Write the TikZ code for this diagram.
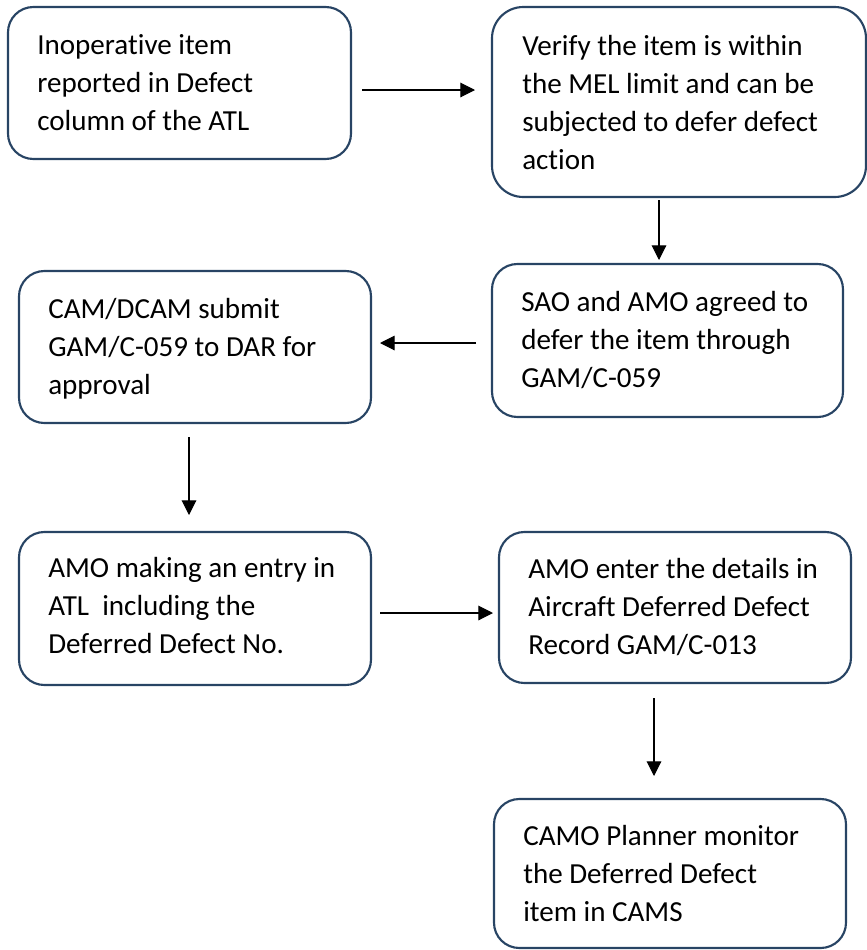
\documentclass[tikz,border=0pt]{standalone}
\usepackage{fontspec}
\setmainfont{Carlito}[Ligatures=NoCommon]
\usetikzlibrary{arrows.meta}
\definecolor{boxline}{RGB}{40,68,100}
% text block with one line per \\, baseline of the first line as reference
\newcommand\steplines[1]{\parbox[t]{330pt}{\raggedright #1}}
\begin{document}
\begin{tikzpicture}[x=0.75pt,y=-0.75pt,
  stepbox/.style={draw=boxline, line width=1.6pt, rounded corners=19pt,
    inner sep=0pt, outer sep=0pt, anchor=north west},
  steptext/.style={anchor=base west, inner sep=0pt,
    font=\fontsize{21.8}{28.7}\selectfont},
  flow/.style={-{Triangle[length=11pt,width=11pt]}, line width=0.8pt, black}]
\useasboundingbox (0,0) rectangle (867,950);

% boxes
\node[stepbox, minimum width=343*0.75pt, minimum height=152*0.75pt] (b1) at (8,7) {};
\node[stepbox, rounded corners=23.5pt, minimum width=374*0.75pt, minimum height=190*0.75pt] (b2) at (492,7) {};
\node[stepbox, minimum width=351*0.75pt, minimum height=153*0.75pt] (b3) at (492,264) {};
\node[stepbox, minimum width=352*0.75pt, minimum height=152*0.75pt] (b4) at (19,271) {};
\node[stepbox, minimum width=352*0.75pt, minimum height=153*0.75pt] (b5) at (19,532) {};
\node[stepbox, minimum width=352*0.75pt, minimum height=151*0.75pt] (b6) at (499,532) {};
\node[stepbox, minimum width=352*0.75pt, minimum height=149*0.75pt] (b7) at (494,799) {};

% texts
\node[steptext] (t1) at (37,54) {\steplines{Inoperative item\\reported in Defect\\column of the ATL}};
\node[steptext] (t2) at (522,55) {\steplines{Verify the item is within\\the MEL limit and can be\\subjected to defer defect\\action}};
\node[steptext] (t3) at (521,311) {\steplines{SAO and AMO agreed to\\defer the item through\\GAM/C-059}};
\node[steptext] (t4) at (48,318) {\steplines{CAM/DCAM submit\\GAM/C-059 to DAR for\\approval}};
\node[steptext] (t5) at (48,577) {\steplines{AMO making an entry in\\ATL\ \ including the\\Deferred Defect No.}};
\node[steptext] (t6) at (528,578) {\steplines{AMO enter the details in\\Aircraft Deferred Defect\\Record GAM/C-013}};
\node[steptext] (t7) at (523,845) {\steplines{CAMO Planner monitor\\the Deferred Defect\\item in CAMS}};

% connector levels
\coordinate (r1) at (0,90);
\coordinate (c2) at (659,0);
\coordinate (r3) at (0,343);
\coordinate (c4) at (189,0);
\coordinate (r5) at (0,613);
\coordinate (c6) at (654,0);

% connectors
\draw[flow, shorten <=8.25pt, shorten >=12.75pt] (b1.east |- r1) -- (b2.west |- r1);
\draw[flow, shorten <=2.25pt, shorten >=3pt] (b2.south -| c2) -- (b3.north -| c2);
\draw[flow, shorten <=12pt, shorten >=6.75pt] (b3.west |- r3) -- (b4.east |- r3);
\draw[flow, shorten <=10.5pt, shorten >=12.75pt] (b4.south -| c4) -- (b5.north -| c4);
\draw[flow, shorten <=6.75pt, shorten >=4.5pt] (b5.east |- r5) -- (b6.west |- r5);
\draw[flow, shorten <=11.25pt, shorten >=17.25pt] (b6.south -| c6) -- (b7.north -| c6);
\end{tikzpicture}
\end{document}
